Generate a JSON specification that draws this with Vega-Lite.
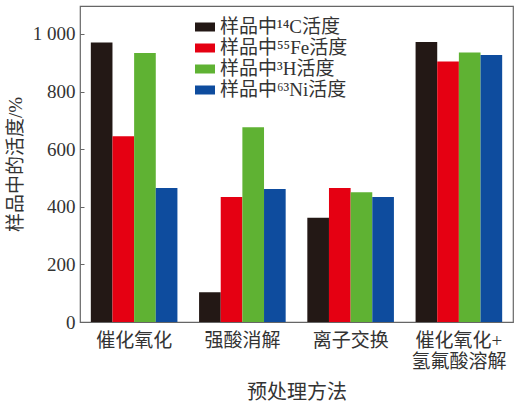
{
  "$schema": "https://vega.github.io/schema/vega-lite/v6.json",
  "width": 433,
  "height": 316,
  "autosize": "none",
  "padding": {"left": 80, "top": 6, "right": 7, "bottom": 82},
  "background": "white",
  "data": {
    "values": [
      {"method": "催化氧化", "series": "样品中¹⁴C活度", "value": 970},
      {"method": "催化氧化", "series": "样品中⁵⁵Fe活度", "value": 645},
      {"method": "催化氧化", "series": "样品中³H活度", "value": 934},
      {"method": "催化氧化", "series": "样品中⁶³Ni活度", "value": 465},
      {"method": "强酸消解", "series": "样品中¹⁴C活度", "value": 103},
      {"method": "强酸消解", "series": "样品中⁵⁵Fe活度", "value": 434},
      {"method": "强酸消解", "series": "样品中³H活度", "value": 676},
      {"method": "强酸消解", "series": "样品中⁶³Ni活度", "value": 462},
      {"method": "离子交换", "series": "样品中¹⁴C活度", "value": 362},
      {"method": "离子交换", "series": "样品中⁵⁵Fe活度", "value": 465},
      {"method": "离子交换", "series": "样品中³H活度", "value": 450},
      {"method": "离子交换", "series": "样品中⁶³Ni活度", "value": 434},
      {"method": "催化氧化+氢氟酸溶解", "series": "样品中¹⁴C活度", "value": 972},
      {"method": "催化氧化+氢氟酸溶解", "series": "样品中⁵⁵Fe活度", "value": 904},
      {"method": "催化氧化+氢氟酸溶解", "series": "样品中³H活度", "value": 936},
      {"method": "催化氧化+氢氟酸溶解", "series": "样品中⁶³Ni活度", "value": 927}
    ]
  },
  "mark": {"type": "bar"},
  "encoding": {
    "x": {
      "field": "method",
      "type": "nominal",
      "sort": null,
      "scale": {"paddingInner": 0.2, "paddingOuter": 0.1},
      "axis": {
        "title": "预处理方法",
        "labelAngle": 0,
        "ticks": false,
        "domain": false,
        "labelFontSize": 19,
        "labelPadding": 9,
        "labelLineHeight": 21,
        "labelExpr": "datum.label == '催化氧化+氢氟酸溶解' ? ['催化氧化+', '氢氟酸溶解'] : datum.label",
        "titlePadding": 11,
        "titleFontSize": 20
      }
    },
    "xOffset": {
      "field": "series",
      "type": "nominal",
      "sort": null
    },
    "y": {
      "field": "value",
      "type": "quantitative",
      "scale": {"domain": [0, 1097], "nice": false},
      "axis": {
        "title": "样品中的活度/%",
        "values": [0, 200, 400, 600, 800, 1000],
        "labelExpr": "datum.value == 1000 ? '1 000' : datum.label",
        "grid": false,
        "domain": false,
        "tickSize": -4,
        "labelFontSize": 19,
        "labelPadding": 9,
        "titlePadding": 7,
        "titleFontSize": 19
      }
    },
    "color": {
      "field": "series",
      "type": "nominal",
      "sort": null,
      "scale": {
        "domain": ["样品中¹⁴C活度", "样品中⁵⁵Fe活度", "样品中³H活度", "样品中⁶³Ni活度"],
        "range": ["#231815", "#e50012", "#5fb233", "#0e4c9e"]
      },
      "legend": {
        "title": null,
        "orient": "none",
        "legendX": 115,
        "legendY": 11,
        "symbolType": "M-1,-0.45H1V0.45H-1Z",
        "symbolSize": 400,
        "symbolStrokeWidth": 0,
        "labelFontSize": 19,
        "labelOffset": 5,
        "rowPadding": 1,
        "labelColor": "#333"
      }
    }
  },
  "config": {
    "font": "Liberation Serif, Noto Sans CJK SC",
    "view": {"stroke": "#666", "strokeWidth": 1.2},
    "axis": {
      "labelFont": "Liberation Serif, Noto Sans CJK SC",
      "titleFont": "Liberation Serif, Noto Sans CJK SC",
      "titleFontWeight": "normal",
      "labelColor": "#333",
      "titleColor": "#333",
      "tickColor": "#666"
    },
    "legend": {"labelFont": "Liberation Serif, Noto Sans CJK SC"}
  }
}
